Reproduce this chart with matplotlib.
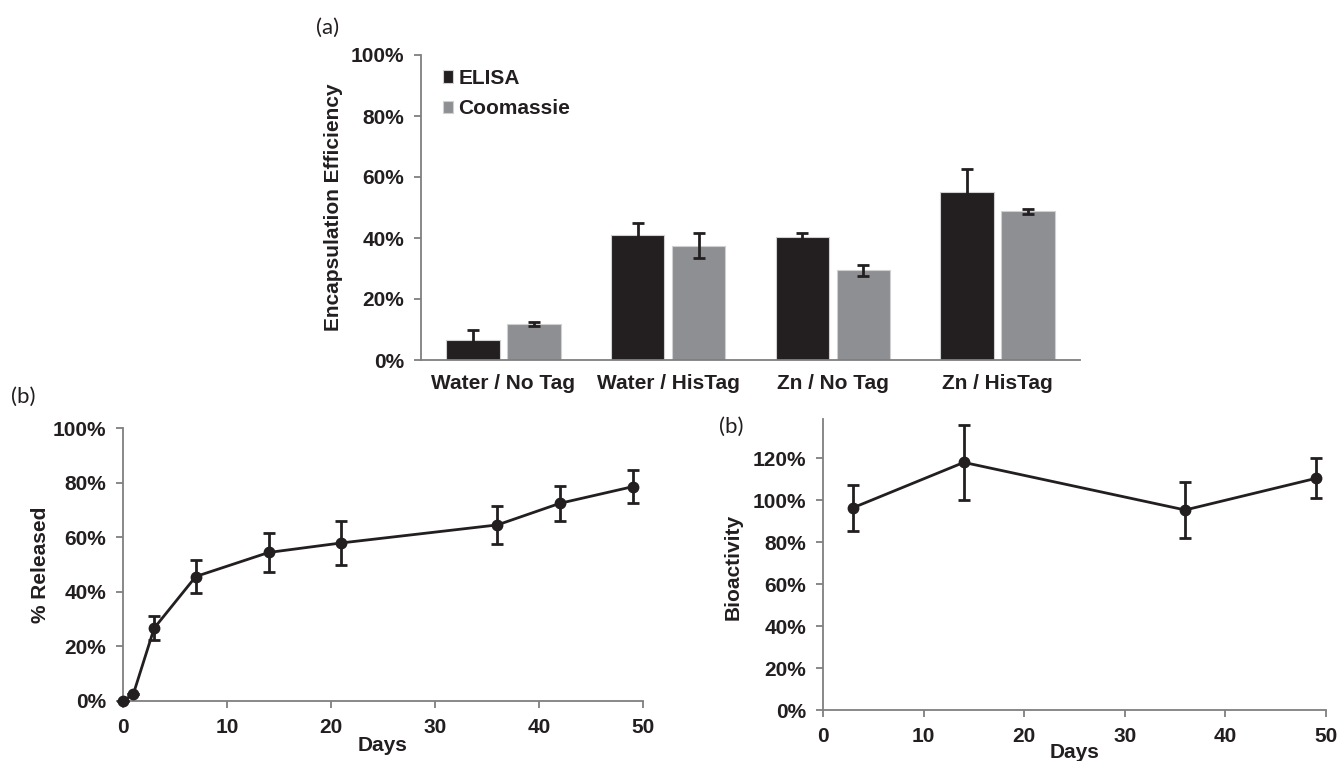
import matplotlib
matplotlib.use("Agg")
import matplotlib.pyplot as plt
import numpy as np
from matplotlib.ticker import PercentFormatter, FixedLocator

# ---------------- data ----------------
categories = ["Water / No Tag", "Water / HisTag", "Zn / No Tag", "Zn / HisTag"]
elisa = [0.065, 0.41, 0.402, 0.551]
elisa_err = [0.033, 0.04, 0.013, 0.074]
coomassie = [0.118, 0.375, 0.294, 0.487]
coomassie_err = [0.008, 0.042, 0.019, 0.008]

release_days = [0, 1, 3, 7, 14, 21, 36, 42, 49]
release_vals = [0.0, 0.026, 0.267, 0.456, 0.544, 0.579, 0.645, 0.724, 0.785]
release_err = [0.0, 0.0, 0.045, 0.062, 0.07, 0.08, 0.07, 0.065, 0.061]

bio_days = [3, 14, 36, 49]
bio_vals = [0.965, 1.181, 0.954, 1.105]
bio_err = [0.11, 0.18, 0.133, 0.095]

# ---------------- style ----------------
plt.rcParams['font.family'] = ['Liberation Sans', 'DejaVu Sans']
plt.rcParams['font.weight'] = 'bold'
DARK = '#231f20'
GREY = '#8e8f93'
SPINE = '#7f7f7f'
FS = 15
W, H = 1339, 761
fig = plt.figure(figsize=(W / 100, H / 100), dpi=100)


def px_axes(left, top, right, bottom):
    return fig.add_axes([left / W, 1 - bottom / H, (right - left) / W, (bottom - top) / H])


def style_axes(ax, xticks_out=True):
    for s in ['top', 'right']:
        ax.spines[s].set_visible(False)
    for s in ['left', 'bottom']:
        ax.spines[s].set_color(SPINE)
        ax.spines[s].set_linewidth(1.3)
    ax.tick_params(axis='y', direction='out', length=5, width=1.3, color=SPINE,
                   labelsize=FS, pad=7)
    if xticks_out:
        ax.tick_params(axis='x', direction='out', length=5, width=1.3, color=SPINE,
                       labelsize=FS, pad=7)
    for lab in ax.get_xticklabels() + ax.get_yticklabels():
        lab.set_fontweight('bold')
        lab.set_color(DARK)


# ---------------- panel (a) ----------------
axa = px_axes(421, 55, 1080, 360)
x = np.arange(len(categories))
bw = 0.325
off = 0.185
axa.bar(x - off, elisa, bw, color=DARK, edgecolor='#d0d0d0', linewidth=0.8, label='ELISA', zorder=2)
axa.bar(x + off, coomassie, bw, color=GREY, edgecolor='#d0d0d0', linewidth=0.8, label='Coomassie', zorder=2)
axa.errorbar(x - off, elisa, yerr=elisa_err, fmt='none', ecolor=DARK,
             elinewidth=2, capsize=4, capthick=2, zorder=3)
axa.errorbar(x + off, coomassie, yerr=coomassie_err, fmt='none', ecolor=DARK,
             elinewidth=2, capsize=4, capthick=2, zorder=3)
axa.set_xlim(-0.5, 3.5)
axa.set_ylim(0, 1.0)
axa.yaxis.set_major_locator(FixedLocator([0, 0.2, 0.4, 0.6, 0.8, 1.0]))
axa.yaxis.set_major_formatter(PercentFormatter(1.0, decimals=0))
axa.set_xticks(x)
axa.set_xticklabels(categories)
style_axes(axa, xticks_out=False)
axa.tick_params(axis='x', length=0, labelsize=FS, pad=10)
for lab in axa.get_xticklabels():
    lab.set_fontweight('bold')
    lab.set_color(DARK)
axa.set_ylabel('Encapsulation Efficiency', fontsize=FS, fontweight='bold', color=DARK)
axa.yaxis.set_label_coords(-0.118, 0.5)
leg = axa.legend(loc='upper left', bbox_to_anchor=(0.033, 0.955), frameon=False,
                 handlelength=0.5, handleheight=0.55, handletextpad=0.25, labelspacing=0.55,
                 borderpad=0, borderaxespad=0,
                 prop={'weight': 'bold', 'size': FS})
for t in leg.get_texts():
    t.set_color(DARK)

# ---------------- panel (b) left ----------------
axb = px_axes(123, 428, 643, 701)
axb.errorbar(release_days, release_vals, yerr=release_err, fmt='-o', color=DARK,
             ecolor=DARK, lw=2, ms=7.5, elinewidth=2, capsize=4, capthick=2, clip_on=False, zorder=3)
axb.set_xlim(0, 50)
axb.set_ylim(0, 1.0)
axb.set_xticks([0, 10, 20, 30, 40, 50])
axb.yaxis.set_major_locator(FixedLocator([0, 0.2, 0.4, 0.6, 0.8, 1.0]))
axb.yaxis.set_major_formatter(PercentFormatter(1.0, decimals=0))
style_axes(axb)
axb.set_xlabel('Days', fontsize=FS, fontweight='bold', color=DARK)
axb.xaxis.set_label_coords(0.5, -0.128)
axb.set_ylabel('% Released', fontsize=FS, fontweight='bold', color=DARK)
axb.yaxis.set_label_coords(-0.14, 0.5)

# ---------------- panel (b) right ----------------
axc = px_axes(823, 419, 1326, 710)
axc.errorbar(bio_days, bio_vals, yerr=bio_err, fmt='-o', color=DARK,
             ecolor=DARK, lw=2, ms=7.5, elinewidth=2, capsize=4, capthick=2, clip_on=False, zorder=3)
axc.set_xlim(0, 50)
axc.set_ylim(0, 1.388)
axc.set_xticks([0, 10, 20, 30, 40, 50])
axc.yaxis.set_major_locator(FixedLocator([0, 0.2, 0.4, 0.6, 0.8, 1.0, 1.2]))
axc.yaxis.set_major_formatter(PercentFormatter(1.0, decimals=0))
style_axes(axc)
axc.set_xlabel('Days', fontsize=FS, fontweight='bold', color=DARK)
axc.xaxis.set_label_coords(0.5, -0.112)
axc.set_ylabel('Bioactivity', fontsize=FS, fontweight='bold', color=DARK)
axc.yaxis.set_label_coords(-0.16, 0.49)

# ---------------- panel letters ----------------
fig.text(316 / W, 1 - 28 / H, '(a)', fontsize=16, fontweight='normal', family='Lato',
         ha='left', va='center', color=DARK)
fig.text(11 / W, 1 - 397 / H, '(b)', fontsize=16, fontweight='normal', family='Lato',
         ha='left', va='center', color=DARK)
fig.text(719 / W, 1 - 427 / H, '(b)', fontsize=16, fontweight='normal', family='Lato',
         ha='left', va='center', color=DARK)

fig.savefig('out.png', dpi=100)
